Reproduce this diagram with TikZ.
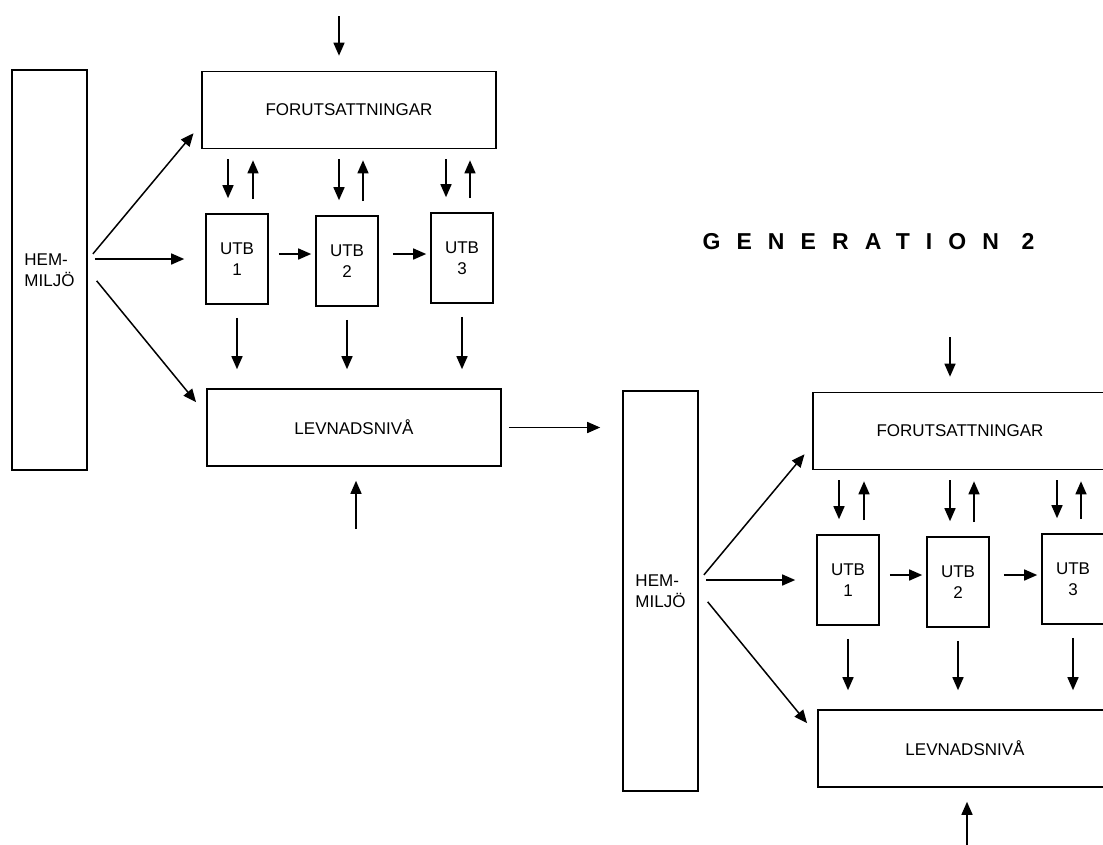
\documentclass[tikz,border=0pt]{standalone}
\usepackage{fontspec}
\setmainfont{Liberation Sans}
\usetikzlibrary{arrows.meta, positioning}

\begin{document}
\begin{tikzpicture}[x=1pt, y=-1pt,
  every node/.style={font=\fontsize{17}{21}\selectfont, align=center},
  box/.style={draw, line width=1.6pt, inner sep=0pt},
  utbbox/.style={box, minimum width=62pt, minimum height=90pt},
  widebox/.style={box, minimum width=294pt, minimum height=77pt},
  arr/.style={-{Triangle[length=13pt,width=11pt]}, line width=1.5pt}
]
  \useasboundingbox (0,0) rectangle (1103,844);
  \fill[white] (0,0) rectangle (1103,844);
  \clip (0,0) rectangle (1103,844);

  % one generation, drawn twice
  \foreach \n/\dx/\dy in {1/0/0, 2/611/321} {
    \begin{scope}[shift={(\dx,\dy)}]
      \node[box, minimum width=75pt, minimum height=400pt, align=left] (hem\n) at (49.5,270) {HEM-\\MILJÖ};
      \node[widebox] (forut\n) at (349,110) {FORUTSATTNINGAR};
      \node[widebox] (lev\n) at (354,427.5) {LEVNADSNIVÅ};
      \node[utbbox] (utb\n-1) at (237,259) {UTB\\1};
      \node[utbbox] (utb\n-2) at (347,261) {UTB\\2};
      \node[utbbox] (utb\n-3) at (462,258) {UTB\\3};

      \coordinate (top\n) at (339,16);
      \coordinate (bot\n) at (356,529);
      \draw[arr, shorten >=15pt] (top\n) -- (top\n |- forut\n.north);
      \draw[arr, shorten >=14pt] (bot\n) -- (bot\n |- lev\n.south);

      % from HEM-MILJÖ
      \draw[arr, shorten <=8pt, shorten >=12pt] ([yshift=10pt]hem\n.east) -- ([yshift=-14pt]forut\n.west);
      \draw[arr, shorten <=7pt, shorten >=21pt] (hem\n.east |- utb\n-1.west) -- (utb\n-1.west);
      \draw[arr, shorten <=14pt, shorten >=16pt] (hem\n.east) -- ([yshift=13pt]lev\n.west);

      % between the UTB boxes
      \coordinate (h\n-1) at ([yshift=5pt]utb\n-1.east);
      \coordinate (h\n-2) at ([yshift=7pt]utb\n-2.east);
      \draw[arr, shorten <=10pt, shorten >=4pt] (h\n-1) -- (h\n-1 -| utb\n-2.west);
      \draw[arr, shorten <=14pt, shorten >=4pt] (h\n-2) -- (h\n-2 -| utb\n-3.west);

      \foreach \i/\dl/\du in {1/-9/16, 2/-8/16, 3/-16/8} {
        \coordinate (dn\n-\i) at ([xshift=\dl pt]utb\n-\i.north);
        \coordinate (up\n-\i) at ([xshift=\du pt]utb\n-\i.north);
        \draw[arr, shorten <=10pt, shorten >=15pt] (dn\n-\i |- forut\n.south) -- (dn\n-\i);
        \draw[arr, shorten <=14pt, shorten >=11pt] (up\n-\i) -- (up\n-\i |- forut\n.south);
        \draw[arr, shorten <=13pt, shorten >=19pt] (utb\n-\i.south) -- (utb\n-\i.south |- lev\n.north);
      }
    \end{scope}
  }

  \draw[arr, shorten <=7pt, shorten >=22pt] (lev1.east) -- (lev1.east -| hem2.west);

  \node[anchor=base west, font=\fontsize{23}{27}\selectfont\bfseries\addfontfeature{LetterSpace=70}] (gen) at (699,249) {GENERATION 2};
\end{tikzpicture}
\end{document}
